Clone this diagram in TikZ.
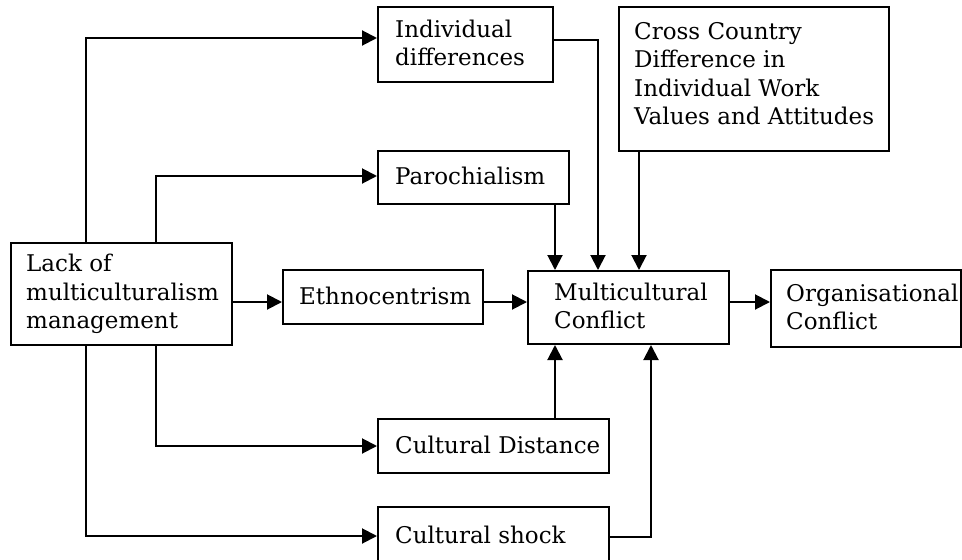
\documentclass[tikz,border=0pt]{standalone}
\usepackage{fontspec}
\setmainfont{DejaVu Serif}
\usetikzlibrary{arrows.meta}
\newcommand{\mystrut}{\rule[-3pt]{0pt}{20pt}}
\begin{document}
\begin{tikzpicture}[x=1pt,y=-1pt,
  box/.style={draw, line width=2pt, inner sep=0pt, minimum width=#1},
  txt/.style={anchor=west, inner sep=0pt, align=left,
    font=\fontsize{23}{28.5}\selectfont,
    execute at begin node=\mystrut, execute at end node=\mystrut},
  arr/.style={line width=2pt, -{Triangle[length=15pt,width=15pt]}},
  ln/.style={line width=2pt}]
\useasboundingbox (0,0) rectangle (962,560);
% boxes
\node[box=175pt, minimum height=75pt]  (ind)   at (465.5,44.5) {};
\node[box=270pt, minimum height=144pt] (cross) at (754,79) {};
\node[box=191pt, minimum height=53pt]  (paro)  at (473.5,177.5) {};
\node[box=221pt, minimum height=102pt] (lack)  at (121.5,294) {};
\node[box=200pt, minimum height=54pt]  (ethno) at (383,297) {};
\node[box=201pt, minimum height=73pt]  (mc)    at (628.5,307.5) {};
\node[box=190pt, minimum height=77pt]  (org)   at (866,308.5) {};
\node[box=231pt, minimum height=54pt]  (dist)  at (493.5,446) {};
\node[box=231pt, minimum height=58pt]  (shock) at (493.5,536) {};
% texts
\node[txt] (ind-t)   at ([xshift=18pt]ind.west)   {Individual\\differences};
\node[txt] (cross-t) at ([xshift=16pt,yshift=4pt]cross.west) {Cross Country\\Difference in\\Individual Work\\Values and Attitudes};
\node[txt] (paro-t)  at ([xshift=18pt]paro.west)  {Parochialism};
\node[txt] (lack-t)  at ([xshift=16pt]lack.west)  {Lack of\\multiculturalism\\management};
\node[txt] (ethno-t) at ([xshift=17pt]ethno.west) {Ethnocentrism};
\node[txt] (mc-t)    at ([xshift=27pt]mc.west)    {Multicultural\\Conflict};
\node[txt] (org-t)   at ([xshift=16pt]org.west)   {Organisational\\Conflict};
\node[txt] (dist-t)  at ([xshift=18pt]dist.west)  {Cultural Distance};
\node[txt] (shock-t) at ([xshift=18pt]shock.west) {Cultural shock};
% helper coordinates
\coordinate (row) at (0,302);
\coordinate (c1) at (555,0);
\coordinate (c2) at (598,0);
\coordinate (c3) at (639,0);
\coordinate (c4) at (651,0);
% connectors
\draw[arr] ([xshift=76pt]lack.north west) |- ([yshift=6.5pt]ind.west);
\draw[arr] ([xshift=146pt]lack.north west) |- ([yshift=1.5pt]paro.west);
\draw[arr] (lack.east |- row) -- (ethno.west |- row);
\draw[arr] (ethno.east |- row) -- (mc.west |- row);
\draw[arr] (mc.east |- row) -- (org.west |- row);
\draw[arr] ([yshift=4.5pt]ind.east) -| (c2 |- mc.north);
\draw[arr] (paro.south -| c1) -- (c1 |- mc.north);
\draw[arr] (cross.south -| c3) -- (c3 |- mc.north);
\draw[arr] ([xshift=146pt]lack.south west) |- (dist.west);
\draw[arr] ([xshift=76pt]lack.south west) |- (shock.west);
\draw[arr] (dist.north -| c1) -- (c1 |- mc.south);
\draw[arr] ([yshift=-1pt]shock.east) -| (c4 |- mc.south);
\end{tikzpicture}
\end{document}
